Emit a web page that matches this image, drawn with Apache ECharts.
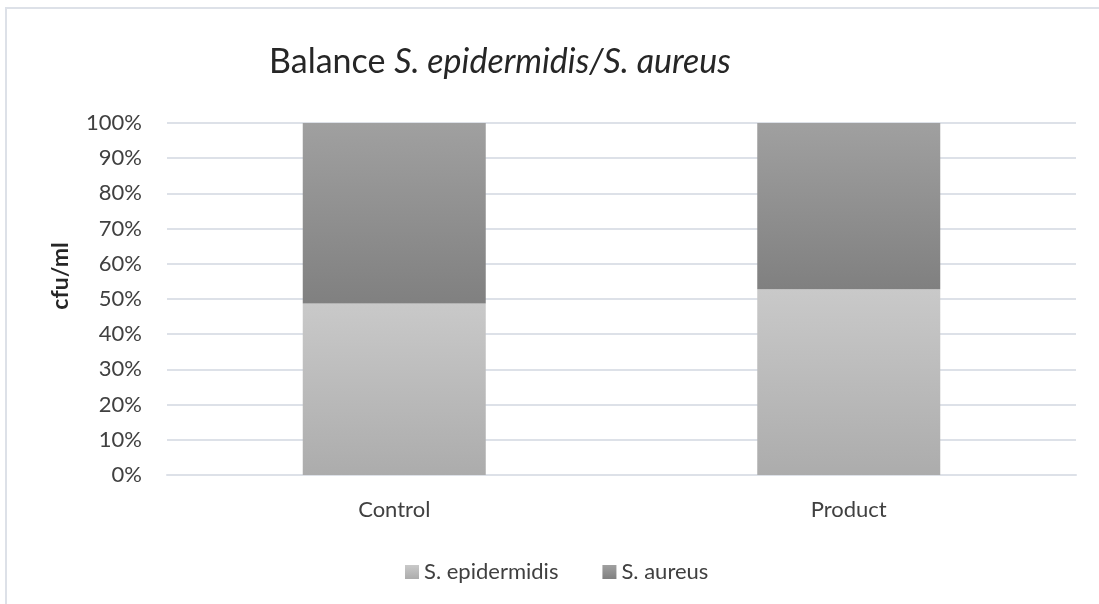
<!DOCTYPE html>
<html>
<head>
<meta charset="utf-8">
<script src="https://cdn.jsdelivr.net/npm/echarts@6/dist/echarts.min.js"></script>
<style>
    html, body {margin: 0; padding: 0; background: #fff;}
    #main {width: 1099px; height: 604px;}
</style>
</head>
<body>
<div id="main"></div>
<script>
var categories = ['Control', 'Product'];
var epidermidis = [48.7, 52.8];
var aureus = [51.3, 47.2];
var seriesNames = ['S. epidermidis', 'S. aureus'];

var font = 'Lato, "Open Sans", sans-serif';

function grad(top, bottom) {
    return new echarts.graphic.LinearGradient(0, 0, 0, 1, [
        {offset: 0, color: top},
        {offset: 1, color: bottom}
    ]);
}

var myChart = echarts.init(document.getElementById('main'));
myChart.setOption({
    animation: false,
    title: {
        text: '{n|Balance }{i|S. epidermidis/S. aureus}',
        left: 495,
        textAlign: 'center',
        top: 40,
        textStyle: {
            rich: {
                n: {fontFamily: font, fontSize: 34, fontWeight: 'normal', color: '#262626'},
                i: {fontFamily: font, fontSize: 34, fontWeight: 'normal', fontStyle: 'italic', color: '#262626'}
            }
        }
    },
    graphic: [
        {
            type: 'rect',
            shape: {x: 6, y: 8, width: 1200, height: 700},
            style: {fill: 'none', stroke: '#dde1e8', lineWidth: 2}
        },
        {
            type: 'text',
            x: 61,
            y: 276,
            rotation: Math.PI / 2,
            style: {
                text: 'cfu/ml',
                font: 'bold 23px ' + font,
                fill: '#262626',
                textAlign: 'center',
                textVerticalAlign: 'middle'
            }
        }
    ],
    legend: {
        data: seriesNames,
        top: 556,
        left: 400,
        itemWidth: 14,
        itemHeight: 14,
        itemGap: 44,
        icon: 'rect',
        textStyle: {fontFamily: font, fontSize: 22, color: '#404040'}
    },
    grid: {left: 167, right: 23, top: 123, bottom: 129},
    xAxis: {
        type: 'category',
        data: categories,
        axisLine: {lineStyle: {color: '#dde1e8', width: 2}},
        axisTick: {show: false},
        axisLabel: {fontFamily: font, fontSize: 22, color: '#404040', margin: 24}
    },
    yAxis: {
        type: 'value',
        min: 0,
        max: 100,
        interval: 10,
        axisLine: {show: false},
        axisTick: {show: false},
        axisLabel: {fontFamily: font, fontSize: 22, color: '#404040', margin: 25, formatter: '{value}%'},
        splitLine: {lineStyle: {color: '#dde1e8', width: 2}}
    },
    series: [
        {
            name: seriesNames[0],
            type: 'bar',
            stack: 'total',
            data: epidermidis,
            barWidth: 183,
            itemStyle: {color: grad('#c9c9c9', '#acacac')}
        },
        {
            name: seriesNames[1],
            type: 'bar',
            stack: 'total',
            data: aureus,
            barWidth: 183,
            itemStyle: {color: grad('#a0a0a0', '#808080')}
        }
    ]
});
</script>
</body>
</html>
